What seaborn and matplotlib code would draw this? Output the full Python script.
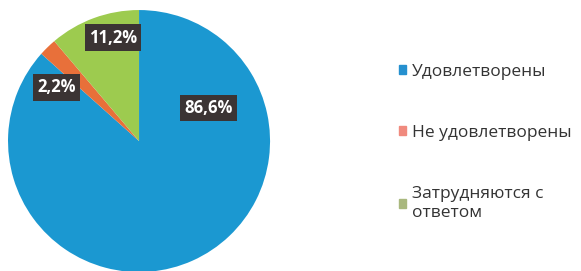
import matplotlib
matplotlib.use("Agg")
import matplotlib.pyplot as plt
import seaborn as sns
from matplotlib.patches import Patch

categories = ["Удовлетворены", "Не удовлетворены", "Затрудняются с\nответом"]
shares = [86.6, 2.2, 11.2]
value_labels = ["86,6%", "2,2%", "11,2%"]

wedge_colors = ["#1b98d1", "#e8703a", "#9dcb4f"]
legend_colors = ["#2590cf", "#f08a7e", "#a9b87e"]
# where each value label sits, in pie coordinates
label_pos = [(0.53, 0.25), (-0.63, 0.41), (-0.20, 0.79)]

sns.set_theme(style="white")
plt.rcParams["font.family"] = ["Open Sans", "DejaVu Sans"]

fig = plt.figure(figsize=(5.81, 2.71), dpi=100)
ax = fig.add_axes([0.0138, -0.004, 0.451, 0.967])

ax.pie(shares, colors=wedge_colors, startangle=90, counterclock=False,
       radius=1.0, wedgeprops=dict(linewidth=0))
ax.set_xlim(-1, 1)
ax.set_ylim(-1, 1)
ax.set_aspect("equal")
ax.axis("off")

for txt, (x, y) in zip(value_labels, label_pos):
    ax.text(x, y, txt, ha="center", va="center", color="white",
            fontsize=12, fontweight="bold",
            bbox=dict(boxstyle="square,pad=0.25", fc="#3b3434", ec="none"))

handles = [Patch(color=c) for c in legend_colors]
leg = fig.legend(handles, categories, loc="upper left", bbox_to_anchor=(0.659, 0.823),
                 frameon=False, fontsize=12.5, labelspacing=2.6,
                 handlelength=0.42, handleheight=0.42, handletextpad=0.35,
                 labelcolor="#333333")
for t in leg.get_texts():
    t.set_linespacing(1.3)

fig.savefig("out.png", dpi=100, facecolor="white")
